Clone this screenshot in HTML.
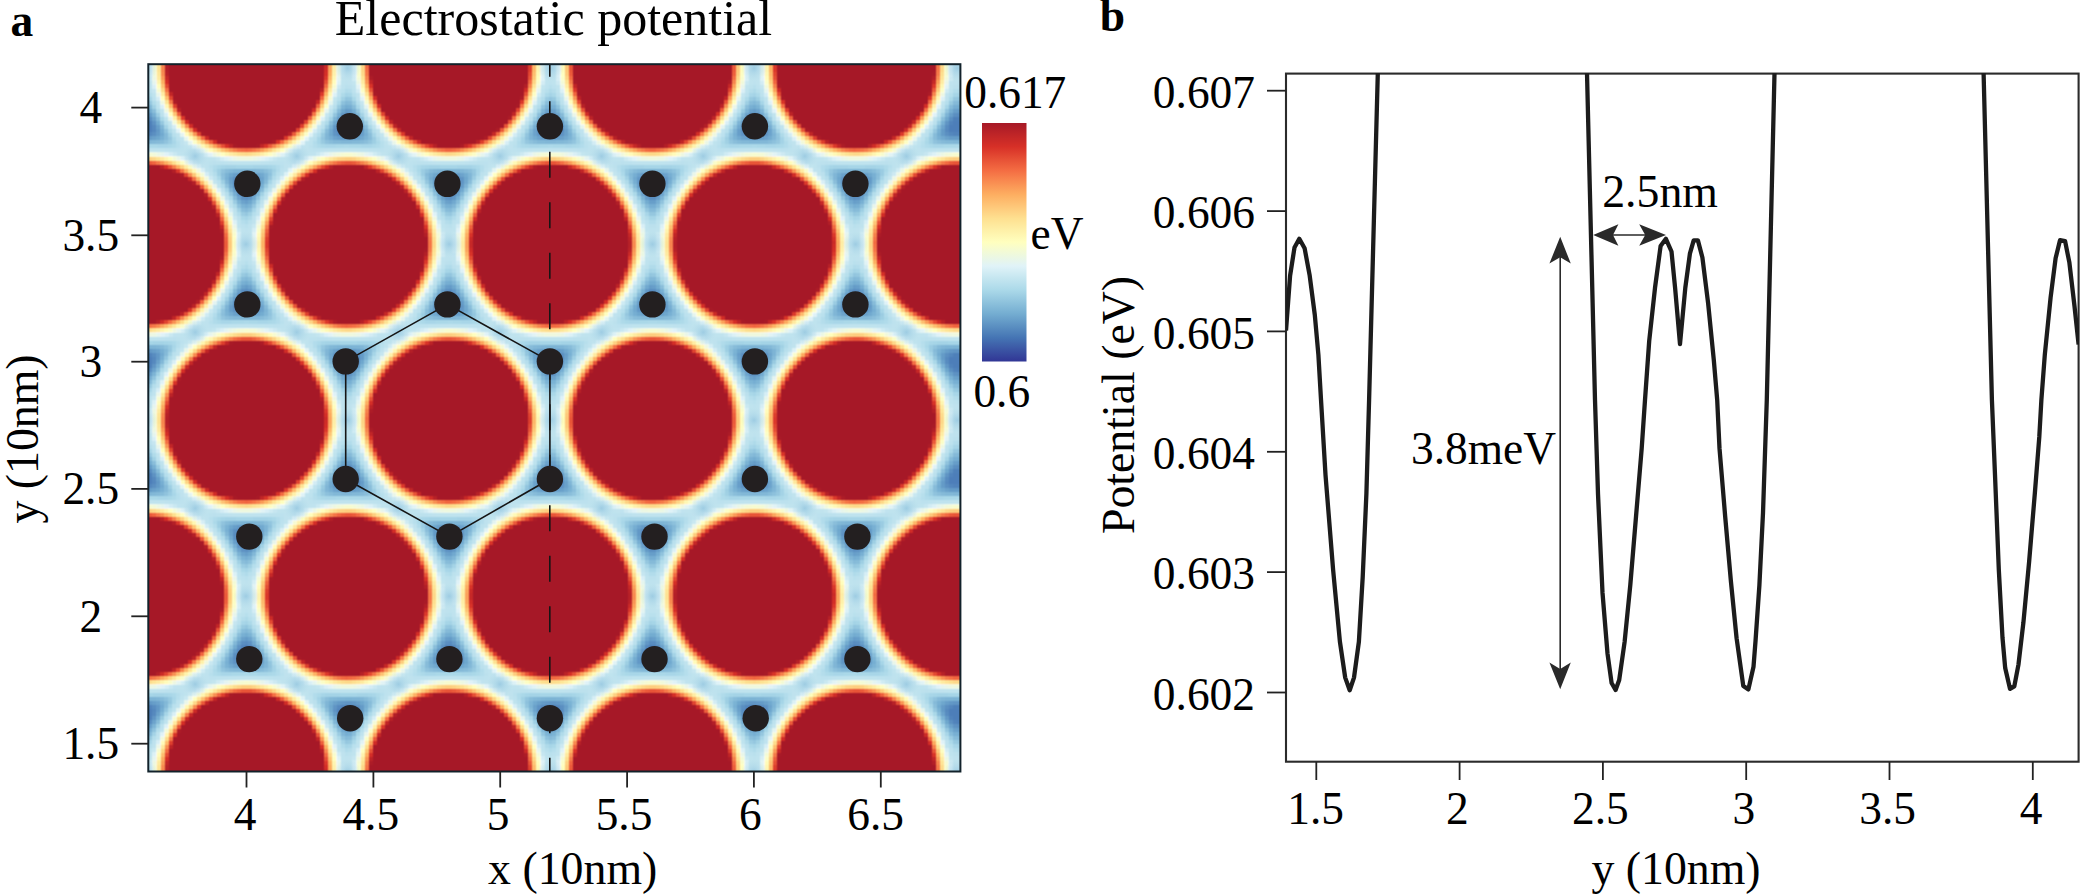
<!DOCTYPE html>
<html lang="en"><head><meta charset="utf-8"><title>Electrostatic potential</title>
<style>
html,body{margin:0;padding:0;background:#fff}
body{width:2081px;height:896px}
svg{display:block}
text{font-family:"Liberation Serif","Times New Roman",Times,serif;fill:#000;font-size:45.4px}
.l{font-size:45.8px}
.b{font-weight:bold;font-size:45.5px}
.m{text-anchor:middle}
.e{text-anchor:end}
</style></head><body>
<svg width="2081" height="896" viewBox="0 0 2081 896">
<defs>
<filter id="pot" filterUnits="userSpaceOnUse" x="60" y="-20" width="990" height="880" color-interpolation-filters="sRGB">
<feGaussianBlur stdDeviation="16"/>
<feComponentTransfer result="col">
<feFuncR type="table" tableValues="0.304 0.304 0.304 0.304 0.304 0.304 0.304 0.304 0.304 0.304 0.304 0.304 0.304 0.304 0.304 0.304 0.307 0.32 0.331 0.34 0.348 0.359 0.369 0.378 0.387 0.396 0.406 0.416 0.425 0.435 0.444 0.454 0.464 0.474 0.484 0.494 0.503 0.513 0.522 0.532 0.542 0.554 0.565 0.576 0.587 0.598 0.609 0.621 0.634 0.645 0.654 0.661 0.669 0.676 0.683 0.691 0.699 0.706 0.713 0.72 0.727 0.734 0.739 0.741 0.744 0.747 0.75 0.752 0.752 0.752 0.752 0.752 0.753 0.753 0.756 0.768 0.78 0.792 0.804 0.815 0.828 0.84 0.852 0.864 0.876 0.884 0.892 0.899 0.906 0.914 0.921 0.929 0.936 0.944 0.951 0.959 0.967 0.974 0.982 0.99 0.998 1 1 0.999 0.999 0.999 0.999 0.998 0.998 0.998 0.997 0.997 0.997 0.997 0.996 0.996 0.996 0.996 0.995 0.995 0.995 0.994 0.994 0.994 0.993 0.993 0.993 0.993 0.992 0.99 0.987 0.985 0.982 0.979 0.976 0.973 0.97 0.967 0.964 0.961 0.958 0.952 0.942 0.932 0.922 0.912 0.901 0.891 0.881 0.87 0.86 0.849 0.835 0.816 0.798 0.779 0.76 0.741 0.721 0.702 0.682 0.662 0.651 0.651 0.651 0.651 0.651 0.651 0.651 0.651 0.651 0.651 0.651 0.651 0.651 0.651 0.651 0.651 0.651 0.651 0.651 0.651 0.651 0.651 0.651 0.651 0.651 0.651 0.651 0.651 0.651 0.651 0.651 0.651 0.651 0.651 0.651 0.651 0.651 0.651 0.651 0.651 0.651 0.651 0.651 0.651 0.651 0.651 0.651 0.651 0.651 0.651 0.651 0.651 0.651 0.651 0.651 0.651 0.651 0.651 0.651 0.651 0.651 0.651 0.651 0.651 0.651 0.651 0.651 0.651 0.651 0.651 0.651 0.651 0.651 0.651 0.651 0.651 0.651 0.651 0.651 0.651 0.651 0.651 0.651 0.651 0.651 0.651 0.651 0.651 0.651 0.651 0.651 0.651 0.651 0.651"/>
<feFuncG type="table" tableValues="0.498 0.498 0.498 0.498 0.498 0.498 0.498 0.498 0.498 0.498 0.498 0.498 0.498 0.498 0.498 0.498 0.503 0.517 0.531 0.541 0.551 0.564 0.576 0.587 0.598 0.608 0.62 0.632 0.643 0.655 0.666 0.677 0.686 0.694 0.702 0.709 0.717 0.725 0.732 0.74 0.748 0.757 0.766 0.775 0.784 0.793 0.802 0.812 0.821 0.831 0.837 0.843 0.849 0.854 0.857 0.861 0.865 0.868 0.872 0.875 0.879 0.882 0.884 0.886 0.887 0.889 0.89 0.891 0.891 0.891 0.891 0.891 0.891 0.891 0.893 0.899 0.904 0.91 0.916 0.922 0.928 0.934 0.94 0.946 0.952 0.955 0.958 0.961 0.964 0.967 0.969 0.972 0.975 0.978 0.981 0.984 0.987 0.99 0.993 0.996 0.999 0.994 0.986 0.978 0.97 0.962 0.954 0.946 0.937 0.929 0.921 0.912 0.904 0.895 0.887 0.878 0.864 0.85 0.835 0.821 0.807 0.792 0.777 0.763 0.748 0.733 0.718 0.703 0.687 0.669 0.649 0.628 0.608 0.587 0.566 0.545 0.524 0.503 0.481 0.46 0.438 0.417 0.396 0.375 0.354 0.332 0.311 0.289 0.267 0.245 0.223 0.2 0.184 0.176 0.167 0.158 0.149 0.14 0.131 0.122 0.113 0.103 0.098 0.098 0.098 0.098 0.098 0.098 0.098 0.098 0.098 0.098 0.098 0.098 0.098 0.098 0.098 0.098 0.098 0.098 0.098 0.098 0.098 0.098 0.098 0.098 0.098 0.098 0.098 0.098 0.098 0.098 0.098 0.098 0.098 0.098 0.098 0.098 0.098 0.098 0.098 0.098 0.098 0.098 0.098 0.098 0.098 0.098 0.098 0.098 0.098 0.098 0.098 0.098 0.098 0.098 0.098 0.098 0.098 0.098 0.098 0.098 0.098 0.098 0.098 0.098 0.098 0.098 0.098 0.098 0.098 0.098 0.098 0.098 0.098 0.098 0.098 0.098 0.098 0.098 0.098 0.098 0.098 0.098 0.098 0.098 0.098 0.098 0.098 0.098 0.098 0.098 0.098 0.098 0.098 0.098"/>
<feFuncB type="table" tableValues="0.726 0.726 0.726 0.726 0.726 0.726 0.726 0.726 0.726 0.726 0.726 0.726 0.726 0.726 0.726 0.726 0.729 0.736 0.743 0.749 0.754 0.76 0.766 0.772 0.778 0.783 0.789 0.795 0.801 0.807 0.813 0.819 0.824 0.828 0.832 0.836 0.841 0.845 0.849 0.853 0.858 0.863 0.867 0.872 0.877 0.882 0.887 0.892 0.898 0.903 0.906 0.91 0.913 0.915 0.917 0.919 0.922 0.924 0.926 0.928 0.93 0.932 0.933 0.934 0.935 0.935 0.936 0.937 0.937 0.937 0.937 0.937 0.937 0.937 0.938 0.941 0.945 0.948 0.951 0.955 0.958 0.962 0.965 0.968 0.972 0.962 0.948 0.935 0.921 0.908 0.894 0.88 0.867 0.853 0.839 0.825 0.81 0.796 0.782 0.768 0.753 0.74 0.728 0.716 0.704 0.692 0.679 0.667 0.654 0.642 0.629 0.616 0.603 0.59 0.577 0.564 0.551 0.538 0.524 0.511 0.497 0.483 0.47 0.456 0.442 0.428 0.414 0.399 0.385 0.374 0.365 0.355 0.346 0.336 0.327 0.317 0.307 0.298 0.288 0.278 0.268 0.258 0.248 0.239 0.229 0.219 0.209 0.199 0.189 0.179 0.169 0.158 0.153 0.153 0.153 0.153 0.153 0.153 0.153 0.153 0.153 0.153 0.153 0.153 0.153 0.153 0.153 0.153 0.153 0.153 0.153 0.153 0.153 0.153 0.153 0.153 0.153 0.153 0.153 0.153 0.153 0.153 0.153 0.153 0.153 0.153 0.153 0.153 0.153 0.153 0.153 0.153 0.153 0.153 0.153 0.153 0.153 0.153 0.153 0.153 0.153 0.153 0.153 0.153 0.153 0.153 0.153 0.153 0.153 0.153 0.153 0.153 0.153 0.153 0.153 0.153 0.153 0.153 0.153 0.153 0.153 0.153 0.153 0.153 0.153 0.153 0.153 0.153 0.153 0.153 0.153 0.153 0.153 0.153 0.153 0.153 0.153 0.153 0.153 0.153 0.153 0.153 0.153 0.153 0.153 0.153 0.153 0.153 0.153 0.153 0.153 0.153 0.153 0.153 0.153 0.153"/>
</feComponentTransfer>
<feFlood x="62" y="-18" width="1" height="1" flood-color="#000" result="px"/><feComposite in="px" in2="px" operator="over" x="60" y="-20" width="4" height="4" result="cell"/><feTile in="cell" result="grid"/><feComposite in="col" in2="grid" operator="in" result="smp"/><feMorphology in="smp" operator="dilate" radius="2"/><feConvolveMatrix order="3" kernelMatrix="1 2 1 2 4 2 1 2 1" divisor="16" edgeMode="duplicate" preserveAlpha="true"/>
</filter>
<clipPath id="hm"><rect x="148.3" y="64.2" width="812.1" height="707.3"/></clipPath>
<clipPath id="pb"><rect x="1286" y="73.3" width="793" height="688.7"/></clipPath>
<radialGradient id="dip"><stop offset="0" stop-color="#9ccbe2" stop-opacity=".95"/><stop offset=".35" stop-color="#a6d2e6" stop-opacity=".6"/><stop offset="1" stop-color="#b4dbea" stop-opacity="0"/></radialGradient>
<radialGradient id="vb"><stop offset="0" stop-color="#4c7cb7"/><stop offset=".45" stop-color="#77aed2" stop-opacity=".85"/><stop offset="1" stop-color="#b4dbea" stop-opacity="0"/></radialGradient>
<radialGradient id="fb"><stop offset="0" stop-color="#a61927"/><stop offset=".825" stop-color="#a61927"/><stop offset=".86" stop-color="#e8553a"/><stop offset=".9" stop-color="#fdc070"/><stop offset=".94" stop-color="#fdfac0"/><stop offset="1" stop-color="#d4ecf2" stop-opacity="0"/></radialGradient>
<linearGradient id="cb" x1="0" y1="0" x2="0" y2="1">

<stop offset="0" stop-color="#a61927"/>
<stop offset="0.05" stop-color="#bf2527"/>
<stop offset="0.1" stop-color="#d73027"/>
<stop offset="0.15" stop-color="#e64f35"/>
<stop offset="0.2" stop-color="#f46d43"/>
<stop offset="0.25" stop-color="#f98e52"/>
<stop offset="0.3" stop-color="#fdae61"/>
<stop offset="0.35" stop-color="#fec779"/>
<stop offset="0.4" stop-color="#fee090"/>
<stop offset="0.45" stop-color="#fef0a8"/>
<stop offset="0.5" stop-color="#ffffbf"/>
<stop offset="0.55" stop-color="#eff9dc"/>
<stop offset="0.6" stop-color="#e0f3f8"/>
<stop offset="0.65" stop-color="#c5e6f0"/>
<stop offset="0.7" stop-color="#abd9e9"/>
<stop offset="0.75" stop-color="#8fc3dd"/>
<stop offset="0.8" stop-color="#74add1"/>
<stop offset="0.85" stop-color="#5c91c2"/>
<stop offset="0.9" stop-color="#4575b4"/>
<stop offset="0.95" stop-color="#3b55a4"/>
<stop offset="1" stop-color="#313695"/>
</linearGradient>
</defs>
<rect width="2081" height="896" fill="#fff"/>
<!-- panel a heatmap -->
<g clip-path="url(#hm)">
<rect x="140" y="56" width="830" height="724" fill="#bcdeec"/><circle cx="144.4" cy="126.9" r="42" fill="url(#vb)"/><circle cx="144.4" cy="361.5" r="42" fill="url(#vb)"/><circle cx="144.4" cy="478.9" r="42" fill="url(#vb)"/><circle cx="144.4" cy="713.5" r="42" fill="url(#vb)"/><circle cx="246.0" cy="185.6" r="42" fill="url(#vb)"/><circle cx="246.0" cy="302.9" r="42" fill="url(#vb)"/><circle cx="246.0" cy="537.5" r="42" fill="url(#vb)"/><circle cx="246.0" cy="654.8" r="42" fill="url(#vb)"/><circle cx="347.6" cy="126.9" r="42" fill="url(#vb)"/><circle cx="347.6" cy="361.5" r="42" fill="url(#vb)"/><circle cx="347.6" cy="478.9" r="42" fill="url(#vb)"/><circle cx="347.6" cy="713.5" r="42" fill="url(#vb)"/><circle cx="449.2" cy="185.6" r="42" fill="url(#vb)"/><circle cx="449.2" cy="302.9" r="42" fill="url(#vb)"/><circle cx="449.2" cy="537.5" r="42" fill="url(#vb)"/><circle cx="449.2" cy="654.8" r="42" fill="url(#vb)"/><circle cx="550.8" cy="126.9" r="42" fill="url(#vb)"/><circle cx="550.8" cy="361.5" r="42" fill="url(#vb)"/><circle cx="550.8" cy="478.9" r="42" fill="url(#vb)"/><circle cx="550.8" cy="713.5" r="42" fill="url(#vb)"/><circle cx="652.4" cy="185.6" r="42" fill="url(#vb)"/><circle cx="652.4" cy="302.9" r="42" fill="url(#vb)"/><circle cx="652.4" cy="537.5" r="42" fill="url(#vb)"/><circle cx="652.4" cy="654.8" r="42" fill="url(#vb)"/><circle cx="754.0" cy="126.9" r="42" fill="url(#vb)"/><circle cx="754.0" cy="361.5" r="42" fill="url(#vb)"/><circle cx="754.0" cy="478.9" r="42" fill="url(#vb)"/><circle cx="754.0" cy="713.5" r="42" fill="url(#vb)"/><circle cx="855.6" cy="185.6" r="42" fill="url(#vb)"/><circle cx="855.6" cy="302.9" r="42" fill="url(#vb)"/><circle cx="855.6" cy="537.5" r="42" fill="url(#vb)"/><circle cx="855.6" cy="654.8" r="42" fill="url(#vb)"/><circle cx="957.2" cy="126.9" r="42" fill="url(#vb)"/><circle cx="957.2" cy="361.5" r="42" fill="url(#vb)"/><circle cx="957.2" cy="478.9" r="42" fill="url(#vb)"/><circle cx="957.2" cy="713.5" r="42" fill="url(#vb)"/><g fill="url(#fb)"><circle cx="42.8" cy="772.2" r="95"/><circle cx="42.8" cy="420.2" r="95"/><circle cx="144.4" cy="596.2" r="95"/><circle cx="246.0" cy="772.2" r="95"/><circle cx="42.8" cy="68.2" r="95"/><circle cx="144.4" cy="244.2" r="95"/><circle cx="246.0" cy="420.2" r="95"/><circle cx="347.6" cy="596.2" r="95"/><circle cx="449.2" cy="772.2" r="95"/><circle cx="246.0" cy="68.2" r="95"/><circle cx="347.6" cy="244.2" r="95"/><circle cx="449.2" cy="420.2" r="95"/><circle cx="550.8" cy="596.2" r="95"/><circle cx="652.4" cy="772.2" r="95"/><circle cx="449.2" cy="68.2" r="95"/><circle cx="550.8" cy="244.2" r="95"/><circle cx="652.4" cy="420.2" r="95"/><circle cx="754.0" cy="596.2" r="95"/><circle cx="855.6" cy="772.2" r="95"/><circle cx="652.4" cy="68.2" r="95"/><circle cx="754.0" cy="244.2" r="95"/><circle cx="855.6" cy="420.2" r="95"/><circle cx="957.2" cy="596.2" r="95"/><circle cx="1058.8" cy="772.2" r="95"/><circle cx="855.6" cy="68.2" r="95"/><circle cx="957.2" cy="244.2" r="95"/><circle cx="1058.8" cy="420.2" r="95"/><circle cx="1058.8" cy="68.2" r="95"/></g>
<g filter="url(#pot)"><rect x="40" y="-40" width="1030" height="920" fill="#000"/><g fill="#fff"><circle cx="42.8" cy="772.2" r="86"/><circle cx="42.8" cy="420.2" r="86"/><circle cx="144.4" cy="596.2" r="86"/><circle cx="246.0" cy="772.2" r="86"/><circle cx="42.8" cy="68.2" r="86"/><circle cx="144.4" cy="244.2" r="86"/><circle cx="246.0" cy="420.2" r="86"/><circle cx="347.6" cy="596.2" r="86"/><circle cx="449.2" cy="772.2" r="86"/><circle cx="246.0" cy="68.2" r="86"/><circle cx="347.6" cy="244.2" r="86"/><circle cx="449.2" cy="420.2" r="86"/><circle cx="550.8" cy="596.2" r="86"/><circle cx="652.4" cy="772.2" r="86"/><circle cx="449.2" cy="68.2" r="86"/><circle cx="550.8" cy="244.2" r="86"/><circle cx="652.4" cy="420.2" r="86"/><circle cx="754.0" cy="596.2" r="86"/><circle cx="855.6" cy="772.2" r="86"/><circle cx="652.4" cy="68.2" r="86"/><circle cx="754.0" cy="244.2" r="86"/><circle cx="855.6" cy="420.2" r="86"/><circle cx="957.2" cy="596.2" r="86"/><circle cx="1058.8" cy="772.2" r="86"/><circle cx="855.6" cy="68.2" r="86"/><circle cx="957.2" cy="244.2" r="86"/><circle cx="1058.8" cy="420.2" r="86"/><circle cx="1058.8" cy="68.2" r="86"/></g></g>
<circle cx="144.4" cy="68.2" r="13" fill="url(#dip)"/><circle cx="144.4" cy="420.2" r="13" fill="url(#dip)"/><circle cx="144.4" cy="772.2" r="13" fill="url(#dip)"/><circle cx="195.2" cy="156.2" r="13" fill="url(#dip)"/><circle cx="195.2" cy="332.2" r="13" fill="url(#dip)"/><circle cx="195.2" cy="508.2" r="13" fill="url(#dip)"/><circle cx="195.2" cy="684.2" r="13" fill="url(#dip)"/><circle cx="246.0" cy="244.2" r="13" fill="url(#dip)"/><circle cx="246.0" cy="596.2" r="13" fill="url(#dip)"/><circle cx="296.8" cy="156.2" r="13" fill="url(#dip)"/><circle cx="296.8" cy="332.2" r="13" fill="url(#dip)"/><circle cx="296.8" cy="508.2" r="13" fill="url(#dip)"/><circle cx="296.8" cy="684.2" r="13" fill="url(#dip)"/><circle cx="347.6" cy="68.2" r="13" fill="url(#dip)"/><circle cx="347.6" cy="420.2" r="13" fill="url(#dip)"/><circle cx="347.6" cy="772.2" r="13" fill="url(#dip)"/><circle cx="398.4" cy="156.2" r="13" fill="url(#dip)"/><circle cx="398.4" cy="332.2" r="13" fill="url(#dip)"/><circle cx="398.4" cy="508.2" r="13" fill="url(#dip)"/><circle cx="398.4" cy="684.2" r="13" fill="url(#dip)"/><circle cx="449.2" cy="244.2" r="13" fill="url(#dip)"/><circle cx="449.2" cy="596.2" r="13" fill="url(#dip)"/><circle cx="500.0" cy="156.2" r="13" fill="url(#dip)"/><circle cx="500.0" cy="332.2" r="13" fill="url(#dip)"/><circle cx="500.0" cy="508.2" r="13" fill="url(#dip)"/><circle cx="500.0" cy="684.2" r="13" fill="url(#dip)"/><circle cx="550.8" cy="68.2" r="13" fill="url(#dip)"/><circle cx="550.8" cy="420.2" r="13" fill="url(#dip)"/><circle cx="550.8" cy="772.2" r="13" fill="url(#dip)"/><circle cx="601.6" cy="156.2" r="13" fill="url(#dip)"/><circle cx="601.6" cy="332.2" r="13" fill="url(#dip)"/><circle cx="601.6" cy="508.2" r="13" fill="url(#dip)"/><circle cx="601.6" cy="684.2" r="13" fill="url(#dip)"/><circle cx="652.4" cy="244.2" r="13" fill="url(#dip)"/><circle cx="652.4" cy="596.2" r="13" fill="url(#dip)"/><circle cx="703.2" cy="156.2" r="13" fill="url(#dip)"/><circle cx="703.2" cy="332.2" r="13" fill="url(#dip)"/><circle cx="703.2" cy="508.2" r="13" fill="url(#dip)"/><circle cx="703.2" cy="684.2" r="13" fill="url(#dip)"/><circle cx="754.0" cy="68.2" r="13" fill="url(#dip)"/><circle cx="754.0" cy="420.2" r="13" fill="url(#dip)"/><circle cx="754.0" cy="772.2" r="13" fill="url(#dip)"/><circle cx="804.8" cy="156.2" r="13" fill="url(#dip)"/><circle cx="804.8" cy="332.2" r="13" fill="url(#dip)"/><circle cx="804.8" cy="508.2" r="13" fill="url(#dip)"/><circle cx="804.8" cy="684.2" r="13" fill="url(#dip)"/><circle cx="855.6" cy="244.2" r="13" fill="url(#dip)"/><circle cx="855.6" cy="596.2" r="13" fill="url(#dip)"/><circle cx="906.4" cy="156.2" r="13" fill="url(#dip)"/><circle cx="906.4" cy="332.2" r="13" fill="url(#dip)"/><circle cx="906.4" cy="508.2" r="13" fill="url(#dip)"/><circle cx="906.4" cy="684.2" r="13" fill="url(#dip)"/><circle cx="957.2" cy="68.2" r="13" fill="url(#dip)"/><circle cx="957.2" cy="420.2" r="13" fill="url(#dip)"/><circle cx="957.2" cy="772.2" r="13" fill="url(#dip)"/>
<g fill="none" stroke="#151515">
<path d="M549.8 50.7V790" stroke-width="1.6" stroke-dasharray="26 24.5"/>
<path d="M447.4 304.4L549.9 361.4L549.9 479L449.4 536.6L345.7 479L345.7 361.4Z" stroke-width="1.6"/>
</g>
<g fill="#231f20"><circle cx="349.8" cy="126.3" r="13.2"/><circle cx="549.9" cy="126.3" r="13.2"/><circle cx="754.9" cy="126.3" r="13.2"/><circle cx="247.3" cy="183.8" r="13.2"/><circle cx="447.4" cy="183.8" r="13.2"/><circle cx="652.4" cy="183.8" r="13.2"/><circle cx="855.4" cy="183.8" r="13.2"/><circle cx="247.3" cy="304.4" r="13.2"/><circle cx="447.4" cy="304.4" r="13.2"/><circle cx="652.4" cy="304.4" r="13.2"/><circle cx="855.4" cy="304.4" r="13.2"/><circle cx="345.7" cy="361.4" r="13.2"/><circle cx="549.9" cy="361.4" r="13.2"/><circle cx="754.9" cy="361.4" r="13.2"/><circle cx="345.7" cy="479.0" r="13.2"/><circle cx="549.9" cy="479.0" r="13.2"/><circle cx="754.9" cy="479.0" r="13.2"/><circle cx="249.3" cy="536.6" r="13.2"/><circle cx="449.4" cy="536.6" r="13.2"/><circle cx="654.5" cy="536.6" r="13.2"/><circle cx="857.4" cy="536.6" r="13.2"/><circle cx="249.3" cy="659.1" r="13.2"/><circle cx="449.4" cy="659.1" r="13.2"/><circle cx="654.5" cy="659.1" r="13.2"/><circle cx="857.4" cy="659.1" r="13.2"/><circle cx="350.2" cy="718.2" r="13.2"/><circle cx="549.9" cy="718.2" r="13.2"/><circle cx="755.7" cy="718.2" r="13.2"/></g>
</g>
<rect x="148.3" y="64.2" width="812.1" height="707.3" fill="none" stroke="#12222b" stroke-width="2"/>

<g stroke="#222" stroke-width="1.8" fill="none">
<path d="M131.3 107.6H148"/>
<path d="M131.3 235.3H148"/>
<path d="M131.3 361.7H148"/>
<path d="M131.3 488.9H148"/>
<path d="M131.3 616.3H148"/>
<path d="M131.3 743.7H148"/>
<path d="M246.5 771V787.5"/>
<path d="M373.4 771V787.5"/>
<path d="M500.2 771V787.5"/>
<path d="M627.1 771V787.5"/>
<path d="M753.9 771V787.5"/>
<path d="M880.8 771V787.5"/>
</g>
<text class="m" x="90.8" y="122.8">4</text>
<text class="m" x="90.8" y="250.5">3.5</text>
<text class="m" x="90.8" y="376.9">3</text>
<text class="m" x="90.8" y="504.1">2.5</text>
<text class="m" x="90.8" y="631.5">2</text>
<text class="m" x="90.8" y="758.9">1.5</text>
<text class="m" x="245" y="829.8">4</text>
<text class="m" x="370.8" y="829.8">4.5</text>
<text class="m" x="498.1" y="829.8">5</text>
<text class="m" x="624" y="829.8">5.5</text>
<text class="m" x="750.3" y="829.8">6</text>
<text class="m" x="875.6" y="829.8">6.5</text>
<text class="b" x="10.6" y="35.5">a</text>
<text class="m" x="553.5" y="34.6" style="font-size:50px">Electrostatic potential</text>
<text class="m l" x="572.7" y="883.8">x (10nm)</text>
<text class="m l" transform="translate(38.4 439) rotate(-90)">y (10nm)</text>
<rect x="982" y="123" width="44.5" height="238.5" fill="url(#cb)"/>
<text x="964.2" y="107.6">0.617</text><text x="973.4" y="407.4">0.6</text><text x="1030.5" y="248.6">eV</text>
<rect x="1286" y="73.6" width="792.6" height="688.1" fill="none" stroke="#2b2b2b" stroke-width="2.1"/>
<g stroke="#222" stroke-width="1.8" fill="none">
<path d="M1267 90.7H1286"/>
<path d="M1267 211.1H1286"/>
<path d="M1267 331.4H1286"/>
<path d="M1267 451.8H1286"/>
<path d="M1267 572.1H1286"/>
<path d="M1267 692.5H1286"/>
<path d="M1316.3 762V780"/>
<path d="M1459.6 762V780"/>
<path d="M1602.9 762V780"/>
<path d="M1746.2 762V780"/>
<path d="M1889.5 762V780"/>
<path d="M2032.8 762V780"/>
</g>
<text class="e" x="1255" y="107.9">0.607</text>
<text class="e" x="1255" y="228.3">0.606</text>
<text class="e" x="1255" y="348.6">0.605</text>
<text class="e" x="1255" y="469">0.604</text>
<text class="e" x="1255" y="589.3">0.603</text>
<text class="e" x="1255" y="709.7">0.602</text>
<text class="m" x="1315.7" y="823.6">1.5</text>
<text class="m" x="1457.4" y="823.6">2</text>
<text class="m" x="1600.4" y="823.6">2.5</text>
<text class="m" x="1743.9" y="823.6">3</text>
<text class="m" x="1887.6" y="823.6">3.5</text>
<text class="m" x="2031" y="823.6">4</text>
<text class="b" x="1099.8" y="31.2">b</text>
<text class="m l" x="1676" y="884.3">y (10nm)</text>
<text class="m l" transform="translate(1133.5 405) rotate(-90)">Potential (eV)</text>
<text class="l" x="1602.2" y="207.4">2.5nm</text><text x="1411" y="464.1">3.8meV</text>
<g clip-path="url(#pb)"><path d="M1286 330.6L1290.1 275.7L1294.5 247.5L1299.3 238.8L1304.6 248.2L1309.7 275.7L1314.8 314.9L1318.4 354.9L1321 399.7L1325.5 474.8L1333.1 569.6L1339.9 641.6L1345.2 677.6L1349.7 690.2L1354 677.6L1358.9 641.6L1362.7 577.2L1366.4 493.7L1369.1 399.7L1377.8 73.3L1378.7 40M1586.2 40L1587 73.3L1595 400L1598 493.9L1602.5 592.7L1607.5 653.5L1611.6 683L1615.6 690L1619.2 680L1624.6 642L1630.3 585L1636 516.7L1641.7 448.4L1645 400L1649.2 341L1655 287.9L1660.6 246L1665.9 238.8L1671.5 251.5L1675.1 287.9L1680 344.1L1685.3 287.9L1689.9 253.7L1693.7 240.4L1697.9 240.4L1702.4 257.5L1708.1 303L1713.8 360L1717.2 400L1719.5 448.4L1725.2 516.7L1730.9 581.3L1736.6 638.3L1743.3 686L1748.4 689.4L1753.5 666.8L1755.6 640L1759.4 585.1L1763 512.9L1765.8 429.4L1766.8 400L1774.5 73.3L1775.3 40M1982.8 40L1983.6 73.3L1991.9 399.7L1995 474.8L1998.8 569.5L2002.5 637.8L2005.2 668.1L2010 688.8L2014.3 686.3L2018.5 664.3L2023.4 622.6L2029.1 562L2034.8 493.7L2039.3 436.9L2041.4 399.7L2044.8 354.9L2050.6 297.5L2055.6 258.3L2060 240.2L2065.1 241.2L2069.4 262.7L2074.5 306.2L2078.6 344.6" fill="none" stroke="#1c1c1c" stroke-width="4.3" stroke-linejoin="round"/></g>
<g fill="#2a2a2a" stroke="none">
<path d="M1559.4 250V676h1.6V250z"/>
<path d="M1560.2 236.8L1570.8 263.5L1560.2 257.2L1549.4 263.5Z"/>
<path d="M1560.2 689.3L1570.8 662.6L1560.2 668.9L1549.4 662.6Z"/>
<path d="M1606 234.2H1653v1.6H1606z"/>
<path d="M1593.2 235L1618.4 224.3L1613 235L1618.4 245.7Z"/>
<path d="M1666 235L1639.2 224.3L1645.2 235L1639.2 245.7Z"/>
</g>
</svg></body></html>
